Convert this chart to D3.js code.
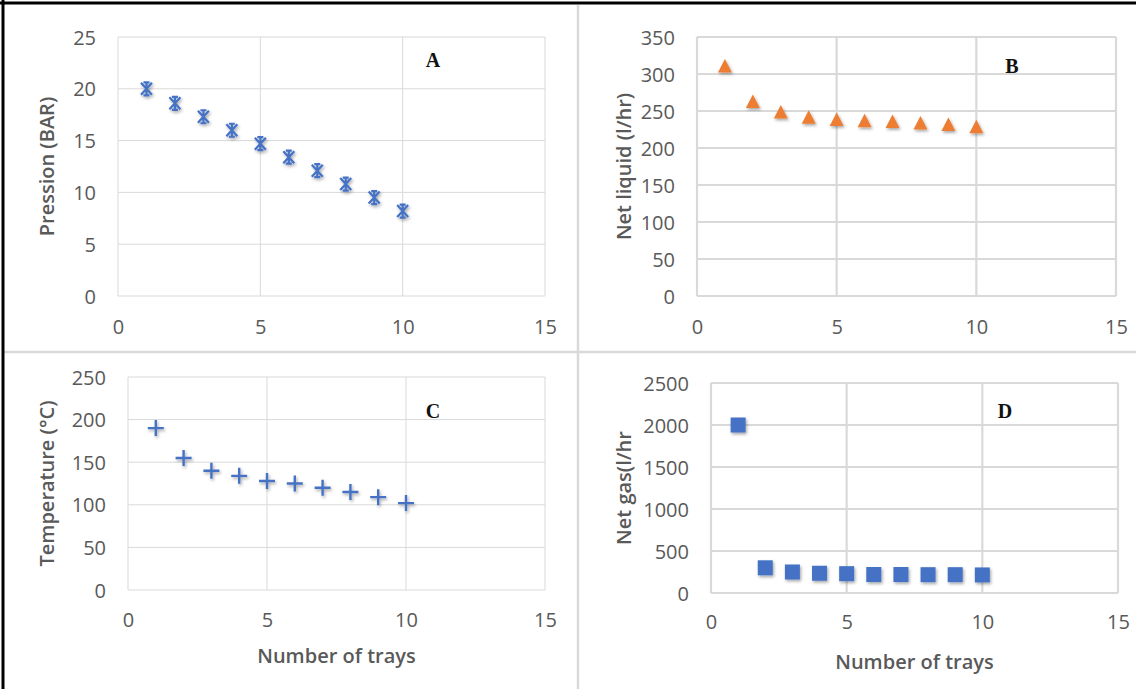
<!DOCTYPE html>
<html>
<head>
<meta charset="utf-8">
<script src="https://cdn.jsdelivr.net/npm/d3@7"></script>
<style>
  html, body { margin: 0; padding: 0; background: #fff; }
  svg { display: block; }
</style>
</head>
<body>
<svg id="chart" width="1136" height="689"></svg>
<script>
// ---- data ----
const trays = [1, 2, 3, 4, 5, 6, 7, 8, 9, 10];
const pressure = [20, 18.6, 17.3, 16.0, 14.7, 13.4, 12.1, 10.8, 9.5, 8.2];
const netLiquid = [310, 262, 248, 241, 238, 236, 235, 233, 231, 228];
const temperature = [190, 155, 140, 134, 128, 125, 120, 115, 109, 102];
const netGas = [2000, 300, 250, 235, 230, 220, 220, 218, 218, 215];

const xTicks = [0, 5, 10, 15];
const yTicksA = [0, 5, 10, 15, 20, 25];
const yTicksB = [0, 50, 100, 150, 200, 250, 300, 350];
const yTicksC = [0, 50, 100, 150, 200, 250];
const yTicksD = [0, 500, 1000, 1500, 2000, 2500];

const yTitles = ["Pression (BAR)", "Net liquid (l/hr)", "Temperature (°C)", "Net gas(l/hr"];
const xTitle = "Number of trays";
const panelLetters = ["A", "B", "C", "D"];

// ---- layout ----
const svg = d3.select("#chart");
const textColor = "#595959";
const font = "'Open Sans', 'Noto Sans', sans-serif";
const tickSize = "20px";
const titleSize = "20px";

const defs = svg.append("defs");
const f = defs.append("filter").attr("id", "shadow").attr("x", "-50%").attr("y", "-50%").attr("width", "200%").attr("height", "200%");
f.append("feDropShadow").attr("dx", 1.2).attr("dy", 1.8).attr("stdDeviation", 1.4)
  .attr("flood-color", "#000").attr("flood-opacity", 0.35);

const panels = [
  { values: pressure, yTicks: yTicksA, yMax: 25, x0: 118, x1: 545, y0: 296, y1: 37, grid: 1,
    yTitleX: 47, letter: [433, 60], marker: "star", xTitle: false, xLabelY: 327 },
  { values: netLiquid, yTicks: yTicksB, yMax: 350, x0: 697, x1: 1116, y0: 296, y1: 37, grid: 2.2,
    yTitleX: 624, letter: [1012, 66], marker: "triangle", xTitle: false, xLabelY: 327 },
  { values: temperature, yTicks: yTicksC, yMax: 250, x0: 128, x1: 545, y0: 590, y1: 377, grid: 1,
    yTitleX: 47, letter: [433, 411], marker: "plus", xTitle: true, xLabelY: 620, xTitleY: 656 },
  { values: netGas, yTicks: yTicksD, yMax: 2500, x0: 711, x1: 1118, y0: 593, y1: 383, grid: 2.2,
    yTitleX: 624, letter: [1005, 411], marker: "square", xTitle: true, xLabelY: 622, xTitleY: 662 }
];

panels.forEach((p, i) => {
  const g = svg.append("g");
  const x = d3.scaleLinear().domain([0, 15]).range([p.x0, p.x1]);
  const y = d3.scaleLinear().domain([0, p.yMax]).range([p.y0, p.y1]);

  g.append("g").selectAll("line").data(p.yTicks).join("line")
    .attr("x1", p.x0).attr("x2", p.x1)
    .attr("y1", d => y(d)).attr("y2", d => y(d))
    .attr("stroke", "#d9d9d9").attr("stroke-width", p.grid);
  g.append("g").selectAll("line").data(xTicks).join("line")
    .attr("x1", d => x(d)).attr("x2", d => x(d))
    .attr("y1", p.y0).attr("y2", p.y1)
    .attr("stroke", "#d9d9d9").attr("stroke-width", p.grid);

  const yAxis = d3.axisLeft(y).tickValues(p.yTicks).tickSize(0).tickPadding(0).tickFormat(d3.format("d"));
  const ya = g.append("g").attr("transform", `translate(${p.x0 - 22},0)`).call(yAxis);
  ya.select(".domain").remove();
  ya.selectAll("text").attr("fill", textColor).style("font-family", font).style("font-size", tickSize)
    .attr("dy", "0.35em");

  const xAxis = d3.axisBottom(x).tickValues(xTicks).tickSize(0).tickPadding(0).tickFormat(d3.format("d"));
  const xa = g.append("g").attr("transform", `translate(0,${p.xLabelY})`).call(xAxis);
  xa.select(".domain").remove();
  xa.selectAll("text").attr("fill", textColor).style("font-family", font).style("font-size", tickSize)
    .attr("dy", "0.35em").attr("y", 0);

  g.append("text")
    .attr("transform", `translate(${p.yTitleX},${(p.y0 + p.y1) / 2}) rotate(-90)`)
    .attr("text-anchor", "middle").attr("dy", "0.35em")
    .attr("fill", textColor).style("font-family", font).style("font-size", titleSize).style("font-weight", 600)
    .text(yTitles[i]);

  if (p.xTitle) {
    g.append("text")
      .attr("x", (p.x0 + p.x1) / 2).attr("y", p.xTitleY)
      .attr("text-anchor", "middle").attr("dy", "0.35em")
      .attr("fill", textColor).style("font-family", font).style("font-size", titleSize).style("font-weight", 600)
      .text(xTitle);
  }

  g.append("text").attr("x", p.letter[0]).attr("y", p.letter[1]).attr("dy", "0.35em")
    .attr("text-anchor", "middle")
    .style("font-family", "'Liberation Serif', 'Times New Roman', serif").style("font-weight", "bold")
    .style("font-size", "20px").attr("fill", "#111").text(panelLetters[i]);

  const pts = trays.map((t, k) => ({ t, v: p.values[k] }));
  const mg = g.append("g").attr("filter", "url(#shadow)");
  const sel = mg.selectAll("g.m").data(pts).join("g").attr("class", "m")
    .attr("transform", d => `translate(${x(d.t)},${y(d.v)})`);
  if (p.marker === "star") {
    sel.append("path")
      .attr("d", "M-3,-6.5H3M-3,6.5H3M0,-6.5V6.5M-5.5,-6L5.5,6M5.5,-6L-5.5,6")
      .attr("stroke", "#4472C4").attr("stroke-width", 2.2).attr("fill", "none");
  } else if (p.marker === "triangle") {
    sel.append("path").attr("d", "M0,-7.5L7,6L-7,6Z").attr("fill", "#ED7D31");
  } else if (p.marker === "plus") {
    sel.append("path").attr("d", "M-8,0H8M0,-8V8")
      .attr("stroke", "#4472C4").attr("stroke-width", 2.4).attr("fill", "none");
  } else if (p.marker === "square") {
    sel.append("rect").attr("x", -7.5).attr("y", -7.5).attr("width", 15).attr("height", 15)
      .attr("fill", "#4472C4");
  }
});

// frame / dividers
svg.append("line").attr("x1", 578).attr("x2", 578).attr("y1", 5).attr("y2", 689)
  .attr("stroke", "#d9d9d9").attr("stroke-width", 2.5);
svg.append("line").attr("x1", 4).attr("x2", 1136).attr("y1", 352).attr("y2", 352)
  .attr("stroke", "#d9d9d9").attr("stroke-width", 2.5);
svg.append("line").attr("x1", 0).attr("x2", 1136).attr("y1", 3).attr("y2", 3)
  .attr("stroke", "#000").attr("stroke-width", 3);
svg.append("line").attr("x1", 3).attr("x2", 3).attr("y1", 0).attr("y2", 689)
  .attr("stroke", "#000").attr("stroke-width", 3);
</script>
</body>
</html>
